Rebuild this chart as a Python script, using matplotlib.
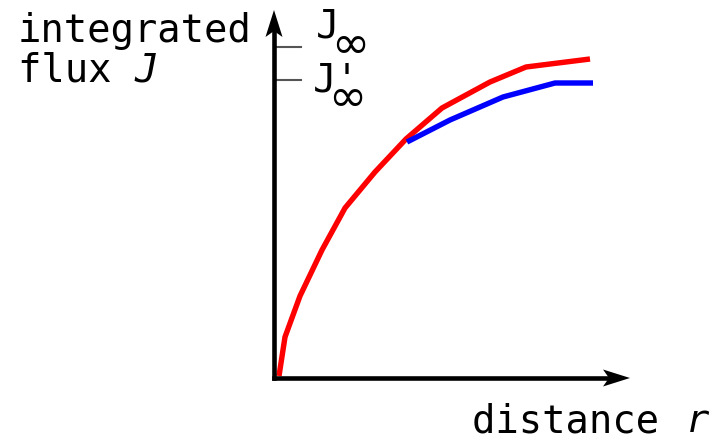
import matplotlib
matplotlib.use("Agg")
import matplotlib.pyplot as plt
from matplotlib.patches import Polygon

# Integrated flux J versus distance r (arbitrary units)
r_full = [0.05, 0.11, 0.26, 0.48, 0.71, 1.01, 1.32, 1.68, 2.16, 2.52, 3.16]
J_full = [0.02, 0.41, 0.82, 1.28, 1.70, 2.06, 2.39, 2.70, 2.96, 3.11, 3.19]

r_part = [1.33, 1.76, 2.29, 2.81, 3.19]
J_part = [2.36, 2.58, 2.81, 2.95, 2.95]

J_inf = 3.31
J_inf_prime = 2.98

r_max = 3.56
J_max = 3.68

fig = plt.figure(figsize=(7.18, 4.44), dpi=100)
ax = fig.add_axes([0, 0, 1, 1])
ax.set_xlim(-2.74, 4.44)
ax.set_ylim(-0.66, 3.78)
ax.axis("off")

mono = "DejaVu Sans Mono"
fs = 28
lw_axis = 3.3

# axes with arrow heads
ax.plot([0, r_max - 0.2], [0, 0], color="black", lw=lw_axis,
        solid_capstyle="projecting", zorder=3)
ax.plot([0, 0], [0, J_max - 0.2], color="black", lw=lw_axis,
        solid_capstyle="projecting", zorder=3)

hl, hw, notch = 0.27, 0.085, 0.21
ax.add_patch(Polygon([(r_max, 0), (r_max - hl, hw), (r_max - notch, 0),
                      (r_max - hl, -hw)], closed=True, color="black", lw=0,
                     zorder=4))
ax.add_patch(Polygon([(0, J_max), (hw, J_max - hl), (0, J_max - notch),
                      (-hw, J_max - hl)], closed=True, color="black", lw=0,
                     zorder=4))

# curves
ax.plot(r_full, J_full, color="#ff0000", lw=3.9, solid_capstyle="butt",
        solid_joinstyle="round", zorder=2)
ax.plot(r_part, J_part, color="#0000ff", lw=3.9, solid_capstyle="butt",
        solid_joinstyle="round", zorder=2)

# asymptote ticks
for yv in (J_inf, J_inf_prime):
    ax.plot([0.03, 0.27], [yv, yv], color="#555555", lw=1.5, zorder=2)

# labels for the asymptotes
ax.text(0.42, 3.40, "J", family=mono, fontsize=fs, ha="left", va="baseline")
ax.text(0.57, 3.20, "\u221e", family="DejaVu Sans", fontsize=33,
        ha="left", va="baseline")
ax.text(0.39, 2.86, "J'", family=mono, fontsize=fs, ha="left", va="baseline")
ax.text(0.54, 2.67, "\u221e", family="DejaVu Sans", fontsize=33,
        ha="left", va="baseline")

# axis titles
ax.text(-2.56, 3.36, "integrated", family=mono, fontsize=fs, ha="left",
        va="baseline")
ax.text(-2.56, 2.96, "flux ", family=mono, fontsize=fs, ha="left",
        va="baseline")
ax.text(-1.40, 2.96, "J", family=mono, style="italic", fontsize=fs,
        ha="left", va="baseline")
ax.text(1.98, -0.54, "distance ", family=mono, fontsize=fs, ha="left",
        va="baseline")
ax.text(4.12, -0.54, "r", family=mono, style="italic", fontsize=fs,
        ha="left", va="baseline")

fig.savefig("out.png", dpi=100)
